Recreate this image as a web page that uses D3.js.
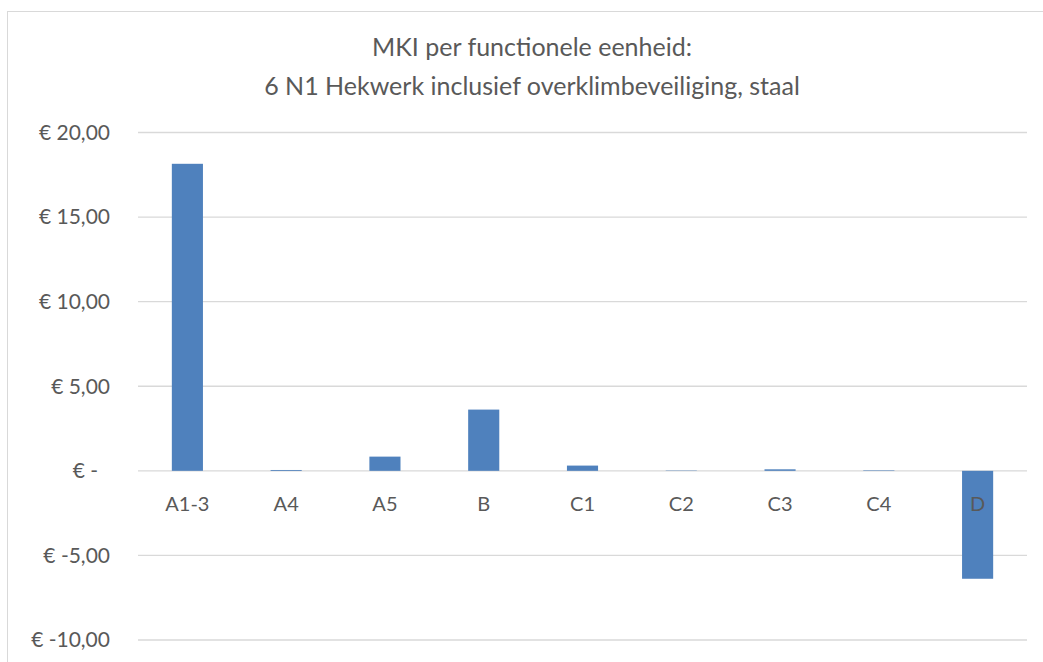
<!DOCTYPE html>
<html lang="en">
  <head>
    <meta charset="UTF-8" />
    <title>MKI per functionele eenheid</title>
    <style>
      body { margin: 0; background: #fff; }
      text { font-family: Lato, "Open Sans", sans-serif; fill: #595959; }
    </style>
  </head>
  <body>
    <svg id="svg" width="1043" height="662"></svg>

    <script src="https://d3js.org/d3.v7.min.js"></script>
    <script>
      const categories = ["A1-3", "A4", "A5", "B", "C1", "C2", "C3", "C4", "D"];
      const values = [18.15, 0.05, 0.84, 3.62, 0.31, 0.02, 0.09, 0.03, -6.38];
      const yTicks = [-10, -5, 0, 5, 10, 15, 20];
      const titleLines = [
        "MKI per functionele eenheid:",
        "6 N1 Hekwerk inclusief overklimbeveiliging, staal",
      ];

      const svg = d3.select("#svg");

      // chart area border
      svg.append("rect")
        .attr("x", 7.5).attr("y", 11.5)
        .attr("width", 1050).attr("height", 700)
        .attr("fill", "none").attr("stroke", "#d9d9d9");

      const x = d3.scaleBand().domain(categories).range([138, 1027]).paddingInner(0.685).paddingOuter(0.3425);
      const y = d3.scaleLinear().domain([-10, 20]).range([640, 132.5]);

      // gridlines
      svg.append("g")
        .selectAll("line")
        .data(yTicks)
        .join("line")
        .attr("x1", 138).attr("x2", 1027)
        .attr("y1", (d) => y(d)).attr("y2", (d) => y(d))
        .attr("stroke", "#d9d9d9").attr("stroke-width", 1.3);

      // y labels, hyphen minus like the original
      const fmt = (d) => d === 0 ? "€ -" : "€ " + d.toFixed(2).replace(".", ",");
      svg.append("g")
        .selectAll("text")
        .data(yTicks)
        .join("text")
        .attr("x", (d) => d === 0 ? 98 : 110)
        .attr("y", (d) => y(d))
        .attr("dy", "0.35em")
        .attr("text-anchor", "end")
        .attr("font-size", 21)
        .text(fmt);

      // bars
      svg.append("g")
        .selectAll("rect")
        .data(values)
        .join("rect")
        .attr("x", (d, i) => x(categories[i]))
        .attr("width", x.bandwidth())
        .attr("y", (d) => y(Math.max(0, d)))
        .attr("height", (d) => Math.abs(y(d) - y(0)))
        .attr("fill", "#4f81bd");

      // category labels
      svg.append("g")
        .selectAll("text")
        .data(categories)
        .join("text")
        .attr("x", (d) => x(d) + x.bandwidth() / 2)
        .attr("y", y(0) + 33)
        .attr("dy", "0.35em")
        .attr("text-anchor", "middle")
        .attr("font-size", 20)
        .text((d) => d);

      // title
      svg.append("g")
        .selectAll("text")
        .data(titleLines)
        .join("text")
        .attr("x", 532)
        .attr("y", (d, i) => 47 + i * 39)
        .attr("dy", "0.35em")
        .attr("text-anchor", "middle")
        .attr("font-size", 25)
        .text((d) => d);
    </script>
  </body>
</html>
